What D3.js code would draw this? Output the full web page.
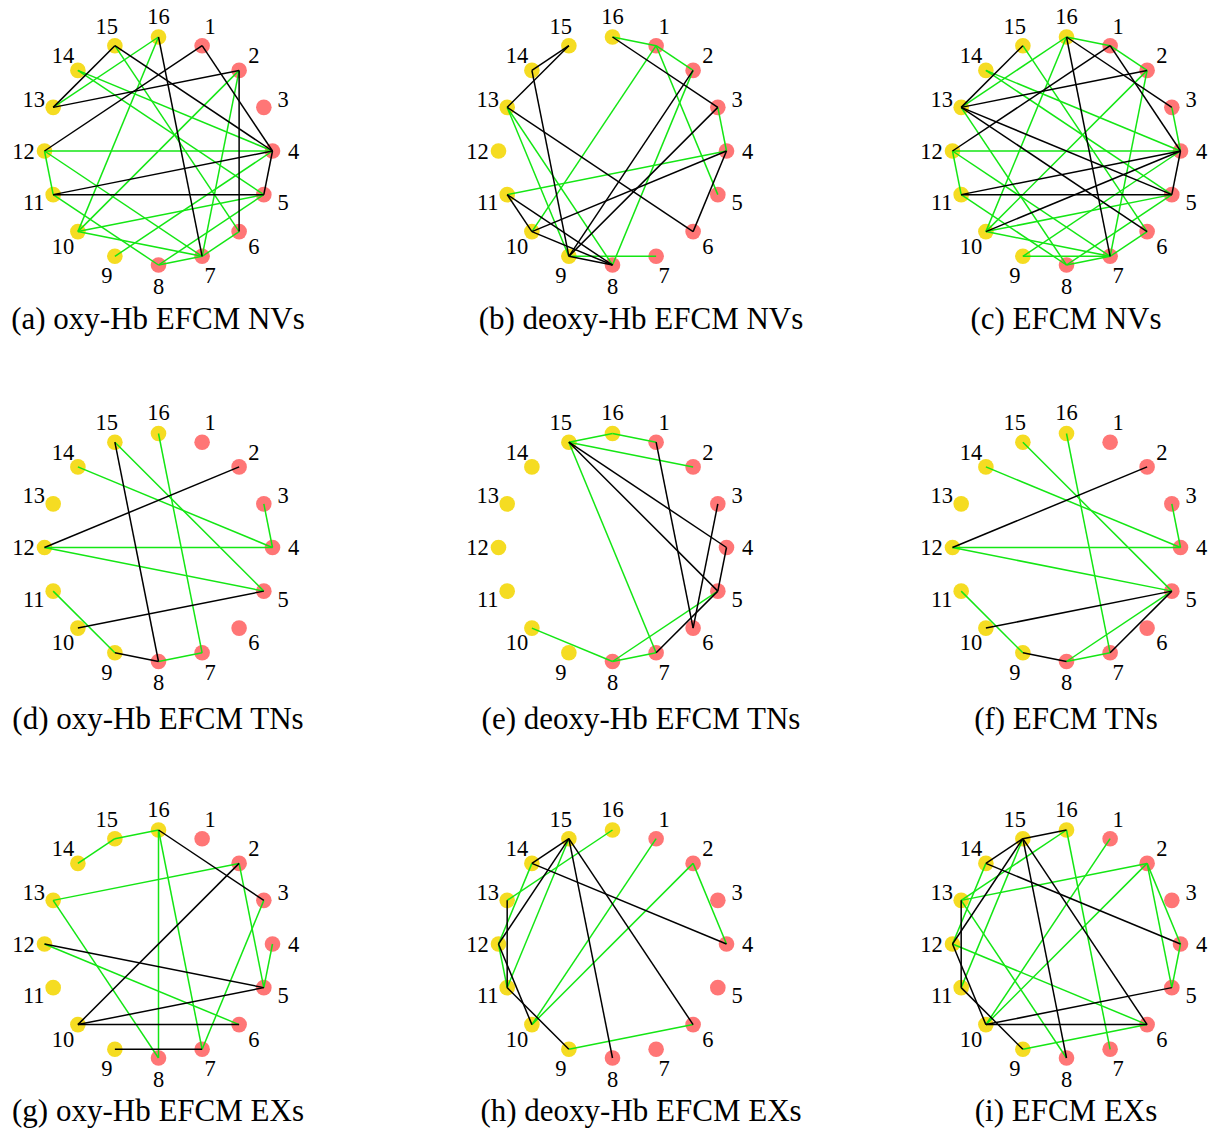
<!DOCTYPE html>
<html>
<head>
<meta charset="utf-8">
<script src="https://cdn.jsdelivr.net/npm/d3@7"></script>
<style>
  body { margin: 0; background: #ffffff; }
  svg { display: block; }
</style>
</head>
<body>
<svg id="chart" width="1212" height="1131"></svg>
<script>
// ---- data -------------------------------------------------------------
// fNIRS channels placed around a ring; 1–8 belong to one group, 9–16 to the other
const channels = d3.range(1, 17);
const channelGroup = channels.map(c => (c <= 8 ? "right" : "left"));

const captions = [
  "(a) oxy-Hb EFCM NVs", "(b) deoxy-Hb EFCM NVs", "(c) EFCM NVs",
  "(d) oxy-Hb EFCM TNs", "(e) deoxy-Hb EFCM TNs", "(f) EFCM TNs",
  "(g) oxy-Hb EFCM EXs", "(h) deoxy-Hb EFCM EXs", "(i) EFCM EXs"
];

// positive (green) and negative (black) connections, as channel pairs
const posA = [[16,13],[16,10],[14,4],[14,5],[15,6],[12,4],[12,11],[12,7],[11,8],[10,2],[10,5],[10,7],[9,4],[8,7],[8,5],[7,2],[7,6]];
const negA = [[15,13],[15,4],[13,2],[1,12],[1,4],[2,6],[16,7],[4,5],[4,11],[11,5]];

const posB = [[16,1],[1,2],[1,5],[1,10],[2,8],[3,4],[4,11],[13,9],[13,8],[9,7]];
const negB = [[15,14],[15,13],[14,9],[13,6],[16,3],[2,9],[3,9],[4,10],[4,6],[11,10],[11,8],[10,8],[9,8]];

const posC = [[16,1],[1,2],[16,13],[16,10],[14,4],[14,5],[15,6],[12,4],[12,11],[12,7],[11,8],[13,8],[10,2],[10,5],[10,7],[9,7],[9,4],[8,7],[8,5],[7,2],[7,6],[3,4]];
const negC = [[15,13],[13,2],[13,5],[13,6],[16,3],[16,7],[1,4],[1,12],[4,5],[4,11],[4,10],[11,5]];

const posD = [[15,5],[16,7],[14,4],[12,4],[12,5],[3,4],[11,9],[8,7]];
const negD = [[15,8],[12,2],[10,5],[9,8]];

const posE = [[15,16],[16,1],[15,2],[15,7],[5,8],[8,7],[10,8]];
const negE = [[15,4],[15,5],[1,6],[3,6],[4,5],[5,7]];

const posF = [[15,5],[16,7],[14,4],[12,4],[12,5],[3,4],[11,9],[8,7],[8,5]];
const negF = [[12,2],[10,5],[9,8],[7,5]];

const posG = [[14,15],[15,16],[16,8],[16,7],[13,2],[13,8],[2,5],[3,7],[4,5],[12,6]];
const negG = [[16,3],[2,10],[12,5],[10,5],[10,6],[9,7]];

const posH = [[15,11],[16,13],[14,12],[12,11],[10,1],[10,2],[2,4],[9,6]];
const negH = [[15,14],[15,12],[15,8],[15,6],[14,4],[13,11],[12,10],[11,9]];

const posI = [[15,11],[16,13],[14,12],[16,7],[13,2],[13,8],[12,6],[10,1],[10,2],[2,4],[2,5],[4,5],[9,6]];
const negI = [[15,16],[15,14],[15,12],[15,8],[15,6],[14,4],[13,11],[12,10],[11,9],[10,5],[10,6]];

const panelLinks = [
  [posA, negA], [posB, negB], [posC, negC],
  [posD, negD], [posE, negE], [posF, negF],
  [posG, negG], [posH, negH], [posI, negI]
];

// ---- layout -------------------------------------------------------------
const colCenters = [158.5, 612.5, 1066.5];
const rowCenters = [151, 547.5, 944];
const captionX = [158, 641, 1066];
const captionY = [329, 729, 1121];

const ringRadius = 114;
const labelRadius = 135;
const nodeRadius = 7.8;

// channel 16 sits at the top, numbering runs clockwise
const angle = d3.scaleLinear().domain([0, 16]).range([-Math.PI / 2, 1.5 * Math.PI]);
const nodeColor = d3.scaleOrdinal().domain(["right", "left"]).range(["#ff7676", "#f5dc22"]);
const linkColor = d3.scaleOrdinal().domain(["pos", "neg"]).range(["#14e614", "#000000"]);

const pos = (c, r) => [r * Math.cos(angle(c)), r * Math.sin(angle(c))];

const svg = d3.select("#chart");

panelLinks.forEach(([posL, negL], i) => {
  const col = i % 3, row = Math.floor(i / 3);
  const g = svg.append("g")
    .attr("transform", `translate(${colCenters[col]},${rowCenters[row]})`);

  // channel dots
  g.selectAll("circle")
    .data(channels)
    .join("circle")
    .attr("cx", c => pos(c, ringRadius)[0])
    .attr("cy", c => pos(c, ringRadius)[1])
    .attr("r", nodeRadius)
    .attr("fill", c => nodeColor(channelGroup[c - 1]));

  // connections drawn over the dots
  const links = posL.map(l => ({ a: l[0], b: l[1], t: "pos" }))
    .concat(negL.map(l => ({ a: l[0], b: l[1], t: "neg" })));
  g.selectAll("line")
    .data(links)
    .join("line")
    .attr("x1", d => pos(d.a, ringRadius)[0])
    .attr("y1", d => pos(d.a, ringRadius)[1])
    .attr("x2", d => pos(d.b, ringRadius)[0])
    .attr("y2", d => pos(d.b, ringRadius)[1])
    .attr("stroke", d => linkColor(d.t))
    .attr("stroke-width", 1.5);

  // channel numbers
  g.selectAll("text.lbl")
    .data(channels)
    .join("text")
    .attr("class", "lbl")
    .attr("x", c => pos(c, labelRadius)[0])
    .attr("y", c => pos(c, labelRadius)[1])
    .attr("text-anchor", "middle")
    .attr("dominant-baseline", "central")
    .attr("font-family", "'Liberation Serif', 'Times New Roman', serif")
    .attr("font-size", 22.5)
    .attr("fill", "#000")
    .text(c => c);

  svg.append("text")
    .attr("x", captionX[col])
    .attr("y", captionY[row])
    .attr("text-anchor", "middle")
    .attr("font-family", "'Liberation Serif', 'Times New Roman', serif")
    .attr("font-size", 31)
    .attr("fill", "#000")
    .text(captions[i]);
});
</script>
</body>
</html>
